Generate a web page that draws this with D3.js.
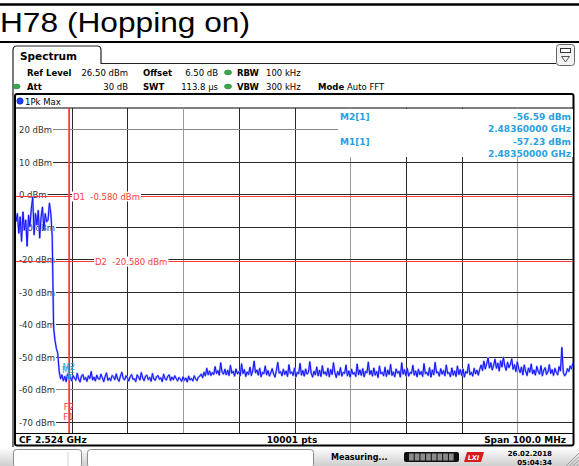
<!DOCTYPE html>
<html>
<head>
<meta charset="utf-8">
<script src="https://cdn.jsdelivr.net/npm/d3@7"></script>
<style>
  body { margin: 0; background: #fff; }
  svg { display: block; }
  text { white-space: pre; }
</style>
</head>
<body>
<svg id="chart"></svg>
<script>
// ---- data ----
const titleText = "H78 (Hopping on)";

const yTickValues = [20, 10, 0, -10, -20, -30, -40, -50, -60, -70];
const yTickLabels = ["20 dBm", "10 dBm", "0 dBm", "-10 dBm", "-20 dBm", "-30 dBm", "-40 dBm", "-50 dBm", "-60 dBm", "-70 dBm"];

const refLevel = 26.5;      // dBm at top of grid
const levelRange = 100;     // dB over 10 divisions
const centerGHz = 2.524;
const spanGHz = 0.1;

// sweep points, 0.25 MHz apart starting at 2.474 GHz (dBm)
const traceStartGHz = 2.474;
const traceStepGHz = 0.00025;
const traceValues = [
  -8.5, -6, -12, -7, -14.5, -5.5, -11, -8, -16, -6.5,
  -10, -4.5, -1, -12.5, -6, -9.5, -5, -13.5, -7, -4,
  -11, -6, -8.5, -8, -2.8, -6, -13, -41, -45, -47.5,
  -49, -54.5,
  -56.8, -55.6, -57.4, -56.1, -57.7, -55.3, -56.9, -56.2, -57.5, -55.8,
  -56.6, -57.3, -55.1, -56.9, -57.8, -56.0, -55.5, -57.1, -56.4, -57.6,
  -55.9, -56.7, -54.6, -57.2, -56.3, -57.5, -55.7, -56.8, -57.0, -55.4,
  -56.5, -57.7, -56.1, -55.0, -57.3, -56.6, -57.4, -55.8, -56.2, -57.1,
  -55.3, -56.9, -57.6, -56.0, -54.8, -56.7, -57.2, -55.9, -56.5, -57.5,
  -56.2, -55.5, -57.0, -56.8, -57.7, -55.6, -56.3, -57.2, -54.9, -56.6,
  -57.4, -56.0, -55.7, -57.1, -56.4, -57.6, -55.2, -56.9, -57.3, -56.1,
  -55.8, -57.0, -56.5, -57.7, -55.4, -56.8, -57.2, -56.0, -55.6, -57.4,
  -56.3, -57.1, -55.9, -56.7, -57.5, -56.4, -56.9, -57.6, -56.2, -57.3,
  -56.6, -57.8, -56.0, -57.2, -56.7, -57.5, -55.9, -56.8, -57.4, -56.3,
  -56.0, -55.4, -56.5, -54.8, -55.9, -53.6, -55.6, -54.4, -55.8, -54.9,
  -55.5, -53.1, -55.2, -54.3, -55.7, -51.9, -54.8, -55.4, -53.9, -55.6,
  -54.2, -55.8, -52.7, -55.1, -54.5, -56.0, -53.8, -55.3, -54.6, -55.9,
  -52.2, -55.2, -54.0, -56.1, -54.7, -55.5, -53.3, -55.8, -54.4, -51.4,
  -55.0, -54.1, -55.7, -53.6, -56.2, -54.8, -55.3, -52.9, -55.6, -54.3,
  -56.0, -54.9, -53.7, -55.4, -56.3, -54.2, -51.8, -55.1, -54.6, -55.9,
  -53.9, -55.5, -54.4, -56.1, -52.5, -55.2, -54.7, -55.8, -53.5, -56.2,
  -54.8, -55.3, -52.1, -55.7, -54.3, -56.0, -53.8, -55.4, -54.9, -51.6,
  -55.1, -56.3, -54.5, -55.6, -53.2, -55.9, -54.2, -56.1, -52.8, -55.3,
  -54.7, -55.8, -53.6, -56.2, -54.0, -55.5, -51.9, -55.0, -56.4, -54.6,
  -55.7, -53.4, -56.0, -54.8, -55.2, -52.6, -55.9, -54.4, -56.3, -53.9,
  -55.4, -54.9, -56.1, -52.3, -55.6, -54.1, -55.8, -53.7, -56.2, -54.5,
  -55.0, -51.7, -55.5, -54.3, -56.0, -53.5, -55.7, -54.6, -56.4, -52.9,
  -55.3, -54.8, -55.9, -53.3, -56.1, -54.2, -55.5, -52.4, -55.8, -54.7,
  -56.2, -53.8, -55.1, -54.5, -56.3, -51.9, -55.4, -54.0, -55.9, -53.6,
  -56.0, -54.9, -55.2, -52.7, -55.7, -54.4, -56.2, -53.9, -55.5, -54.6,
  -56.1, -52.2, -55.3, -54.8, -55.8, -53.4, -56.3, -54.1, -55.6, -51.8,
  -55.0, -54.7, -56.0, -53.7, -55.4, -54.3, -55.9, -52.6, -55.2, -54.9,
  -56.2, -53.5, -55.7, -54.4, -56.1, -52.9, -55.5, -54.0, -55.8, -53.8,
  -56.3, -54.6, -55.1, -52.3, -55.6, -54.8, -56.0, -53.6, -55.3, -54.2,
  -55.7, -53.9, -52.6, -54.3, -51.4, -53.8, -52.2, -50.4, -53.5, -51.9,
  -54.1, -52.7, -50.8, -53.6, -52.0, -54.4, -51.3, -53.2, -50.2, -52.9,
  -54.2, -51.7, -53.4, -52.4, -50.7, -53.9, -52.5, -54.6, -51.6, -53.7,
  -54.9, -53.2, -55.6, -52.6, -54.4, -55.8, -53.5, -54.8, -52.3, -55.3,
  -54.1, -55.7, -53.0, -54.6, -55.4, -52.8, -55.9, -54.2, -53.4, -55.5,
  -54.7, -52.5, -55.2, -54.0, -55.8, -53.6, -54.9, -55.6, -53.1, -54.4,
  -47.2, -54.8, -55.9, -55.3, -53.7, -54.6, -52.9, -53.8, -51.8
];

const markerNames = ["M1", "M2"];
const markerFreqs = [2.4835, 2.4836];     // GHz
const markerLevels = [-57.23, -56.59];    // dBm

const displayLineNames = ["D1", "D2"];
const displayLineLevels = [-0.58, -20.58];

const freqLineNames = ["F1", "F2"];
const freqLineValues = [2.4835, 2.4836];

const settingLabels = ["Ref Level", "Offset", "RBW", "Att", "SWT", "VBW", "Mode"];
const settingValues = ["26.50 dBm", "6.50 dB", "100 kHz", "30 dB", "113.8 µs", "300 kHz", "Auto FFT"];

const traceName = "1Pk Max";
const sweepPoints = "10001 pts";
const statusText = "Measuring...";
const dateText = ["26.02.2018", "05:04:34"];


class SpectrumScreen {

    constructor(_config) {
        this.config = {
            parentElement: _config.parentElement,
            containerWidth: _config.containerWidth || 579,
            containerHeight: _config.containerHeight || 466,
            plot: _config.plot || { left: 16, right: 573, top: 108, bottom: 433 }
        };
        this.initVis();
    }

    initVis() {
        let vis = this;
        const p = vis.config.plot;

        vis.svg = d3.select(vis.config.parentElement)
            .attr('width', vis.config.containerWidth)
            .attr('height', vis.config.containerHeight)
            .style('font-family', '"DejaVu Sans", sans-serif');

        vis.xScale = d3.scaleLinear()
            .domain([centerGHz - spanGHz / 2, centerGHz + spanGHz / 2])
            .range([p.left, p.right]);

        vis.yScale = d3.scaleLinear()
            .domain([refLevel - levelRange, refLevel])
            .range([p.bottom, p.top]);

        vis.trace = traceValues.map((v, i) => ({ f: traceStartGHz + i * traceStepGHz, v: v }));

        vis.renderFrame();
        vis.renderVis();
    }

    // document title, tab, settings header, footer and status bar
    renderFrame() {
        let vis = this;
        const svg = vis.svg;
        const W = vis.config.containerWidth;

        svg.append('rect').attr('width', W).attr('height', vis.config.containerHeight).attr('fill', '#fff');

        // title between two rules
        svg.append('line').attr('x1', 0).attr('x2', W).attr('y1', 4.5).attr('y2', 4.5)
            .attr('stroke', '#000').attr('stroke-width', 2.5);
        svg.append('line').attr('x1', 0).attr('x2', W).attr('y1', 42).attr('y2', 42)
            .attr('stroke', '#000').attr('stroke-width', 2);
        svg.append('text')
            .attr('x', 0).attr('y', 32)
            .attr('font-family', '"Liberation Sans", Arial, sans-serif')
            .attr('font-size', 27)
            .attr('textLength', 250)
            .attr('lengthAdjust', 'spacingAndGlyphs')
            .text(titleText);

        // "Spectrum" tab and outer frame line
        svg.append('path')
            .attr('d', 'M13,447 V50 Q13,46 17,46 H97 Q101,46 101,50 V63.5 H556')
            .attr('fill', 'none').attr('stroke', '#222').attr('stroke-width', 1.2);
        svg.append('text').attr('x', 20).attr('y', 59.5)
            .attr('font-size', 10.5).attr('font-weight', 'bold').text('Spectrum');

        // small menu icon at top right
        svg.append('rect').attr('x', 556.5).attr('y', 44.5).attr('width', 18).attr('height', 21).attr('rx', 3)
            .attr('fill', '#f2f2f2').attr('stroke', '#666');
        svg.append('rect').attr('x', 560.5).attr('y', 48.5).attr('width', 10).attr('height', 4)
            .attr('fill', '#fff').attr('stroke', '#333');
        svg.append('path').attr('d', 'M561.5,56.5 H569.5 L565.5,62 Z')
            .attr('fill', 'none').attr('stroke', '#555');

        // settings rows
        const rowY = [75.5, 89.5];
        const labelX = [27, 143, 237];
        const valueRight = [128, 218, 304];
        settingLabels.forEach((lab, i) => {
            const row = i < 3 ? 0 : 1;
            const col = i % 3;
            if (lab === 'Mode') {
                svg.append('text').attr('x', 318).attr('y', rowY[1]).attr('font-size', 8.5)
                    .attr('font-weight', 'bold').text(lab);
                svg.append('text').attr('x', 347).attr('y', rowY[1]).attr('font-size', 8.5)
                    .text(settingValues[i]);
                return;
            }
            svg.append('text').attr('x', labelX[col]).attr('y', rowY[row]).attr('font-size', 8.5)
                .attr('font-weight', 'bold').text(lab);
            svg.append('text').attr('x', col === 2 ? 266 : valueRight[col]).attr('y', rowY[row])
                .attr('font-size', 8.5)
                .attr('text-anchor', col === 2 ? 'start' : 'end')
                .text(settingValues[i]);
        });
        // green status dots (Offset/RBW row, Att, SWT/VBW)
        [[228, 72.5], [16.5, 86.5], [228, 86.5]].forEach(d => {
            svg.append('ellipse').attr('cx', d[0]).attr('cy', d[1]).attr('rx', 3.6).attr('ry', 2.4)
                .attr('fill', '#3aa84a').attr('stroke', '#2a7a36').attr('stroke-width', 0.5);
        });

        // plot box: trace row, grid, footer
        svg.append('rect').attr('x', 15).attr('y', 94).attr('width', 558.5).attr('height', 351.5).attr('rx', 2)
            .attr('fill', '#fff').attr('stroke', '#000').attr('stroke-width', 2);
        svg.append('line').attr('x1', 15).attr('x2', 573).attr('y1', 108).attr('y2', 108).attr('stroke', '#000');
        svg.append('line').attr('x1', 15).attr('x2', 573).attr('y1', 433.5).attr('y2', 433.5).attr('stroke', '#000');

        svg.append('circle').attr('cx', 20).attr('cy', 101).attr('r', 3.2)
            .attr('fill', '#1f3cff').attr('stroke', '#0a1a8a').attr('stroke-width', 0.6);
        svg.append('text').attr('x', 25).attr('y', 104.5).attr('font-size', 8.5).text(traceName);

        svg.append('text').attr('x', 19).attr('y', 443).attr('font-size', 9).attr('font-weight', 'bold')
            .text(`CF ${centerGHz.toFixed(3)} GHz`);
        svg.append('text').attr('x', 292).attr('y', 443).attr('font-size', 9).attr('font-weight', 'bold')
            .attr('text-anchor', 'middle').text(sweepPoints);
        svg.append('text').attr('x', 566).attr('y', 443).attr('font-size', 9).attr('font-weight', 'bold')
            .attr('text-anchor', 'end').text(`Span ${(spanGHz * 1000).toFixed(1)} MHz`);

        // status bar
        const defs = svg.append('defs');
        const grad = defs.append('linearGradient').attr('id', 'barGrad').attr('x1', 0).attr('x2', 0).attr('y1', 0).attr('y2', 1);
        grad.append('stop').attr('offset', '0%').attr('stop-color', '#ffffff');
        grad.append('stop').attr('offset', '100%').attr('stop-color', '#cfcfcf');
        svg.append('rect').attr('x', 0).attr('y', 447).attr('width', W).attr('height', 19).attr('fill', 'url(#barGrad)');

        svg.append('rect').attr('x', 13.5).attr('y', 449.5).attr('width', 68).attr('height', 18).attr('rx', 3)
            .attr('fill', '#fff').attr('stroke', '#8a8a8a');
        svg.append('line').attr('x1', 68).attr('x2', 68).attr('y1', 452).attr('y2', 466).attr('stroke', '#d0d0d0');
        svg.append('rect').attr('x', 87.5).attr('y', 449.5).attr('width', 226).attr('height', 18).attr('rx', 3)
            .attr('fill', '#fff').attr('stroke', '#8a8a8a');

        svg.append('text').attr('x', 331).attr('y', 460).attr('font-size', 8).attr('font-weight', 'bold')
            .text(statusText);

        // progress bar
        svg.append('rect').attr('x', 404).attr('y', 452).attr('width', 55).attr('height', 10).attr('rx', 2).attr('fill', '#111');
        d3.range(8).forEach(k => {
            svg.append('rect').attr('x', 409 + k * 5.7).attr('y', 453.5).attr('width', 4.7).attr('height', 7)
                .attr('fill', '#8c8c8c');
        });

        // LXI badge
        svg.append('path').attr('d', 'M467,452 H484 L481,462 H464 Z').attr('fill', '#d41c1c');
        svg.append('text').attr('x', 473.5).attr('y', 460).attr('font-size', 6.5).attr('font-weight', 'bold')
            .attr('font-style', 'italic').attr('text-anchor', 'middle').attr('fill', '#fff').text('LXI');

        svg.append('text').attr('x', 552).attr('y', 456).attr('font-size', 7).attr('font-weight', 'bold')
            .attr('text-anchor', 'end').text(dateText[0]);
        svg.append('text').attr('x', 552).attr('y', 464.5).attr('font-size', 7).attr('font-weight', 'bold')
            .attr('text-anchor', 'end').text(dateText[1]);

        // resize grip
        d3.range(4).forEach(k => {
            svg.append('line').attr('x1', 566 + k * 3.5).attr('y1', 466).attr('x2', 579).attr('y2', 453 + k * 3.5)
                .attr('stroke', '#9a9a9a');
        });
    }

    renderVis() {
        let vis = this;
        const p = vis.config.plot;
        const svg = vis.svg;

        const plotG = svg.append('g');

        // vertical divisions
        const xDomain = vis.xScale.domain();
        const divFreqs = d3.range(1, 10).map(k => xDomain[0] + k * (xDomain[1] - xDomain[0]) / 10);
        plotG.selectAll('.vgrid')
            .data(divFreqs)
            .join('line')
            .attr('class', 'vgrid')
            .attr('x1', d => Math.round(vis.xScale(d)) + 0.5)
            .attr('x2', d => Math.round(vis.xScale(d)) + 0.5)
            .attr('y1', p.top)
            .attr('y2', p.bottom)
            .attr('stroke', (d, i) => (i + 1) % 3 === 0 ? '#9a9a9a' : '#2a2a2a');

        // level labels with grid lines that start after the label
        yTickValues.forEach((v, i) => {
            const yy = Math.round(vis.yScale(v)) + 0.5;
            const label = plotG.append('text')
                .attr('x', 19)
                .attr('y', yy + 3)
                .attr('font-size', 8.5)
                .attr('fill', '#333')
                .text(yTickLabels[i]);
            const w = label.node().getComputedTextLength();
            plotG.append('line')
                .attr('x1', 19 + w + 1)
                .attr('x2', p.right)
                .attr('y1', yy)
                .attr('y2', yy)
                .attr('stroke', (v === 20 || v === -60) ? '#8a8a8a' : '#2a2a2a');
        });

        // marker readout area hides the grid behind it
        plotG.append('rect').attr('x', 338).attr('y', p.top + 1).attr('width', p.right - 338).attr('height', 48)
            .attr('fill', '#fff');

        const red = '#ff3a3a';

        // display lines D1, D2
        const dLabelX = [73, 95];
        displayLineLevels.forEach((lv, i) => {
            const yy = Math.round(vis.yScale(lv)) + 0.5;
            plotG.append('line').attr('x1', p.left).attr('x2', p.right).attr('y1', yy).attr('y2', yy)
                .attr('stroke', red);
            const t = plotG.append('text')
                .attr('x', dLabelX[i]).attr('y', yy + 3)
                .attr('font-size', 8.5).attr('fill', red)
                .text(`${displayLineNames[i]}  ${lv.toFixed(3)} dBm`);
            const w = t.node().getComputedTextLength();
            plotG.insert('rect', () => t.node())
                .attr('x', dLabelX[i] - 1).attr('y', yy - 5).attr('width', w + 2).attr('height', 10)
                .attr('fill', '#fff');
        });

        // frequency lines F1, F2
        freqLineValues.forEach(f => {
            const xx = vis.xScale(f);
            plotG.append('line').attr('x1', xx).attr('x2', xx).attr('y1', p.top).attr('y2', p.bottom)
                .attr('stroke', red).attr('stroke-width', 1.2);
        });
        [1, 0].forEach((i, k) => {
            plotG.append('text')
                .attr('x', vis.xScale(freqLineValues[i]) - 0.5)
                .attr('y', 410 + k * 10)
                .attr('font-size', 8.5).attr('fill', red).attr('text-anchor', 'middle')
                .text(freqLineNames[i]);
        });

        // trace
        plotG.append('clipPath').attr('id', 'plotClip')
            .append('rect').attr('x', p.left).attr('y', p.top).attr('width', p.right - p.left).attr('height', p.bottom - p.top);

        const line = d3.line()
            .x(d => vis.xScale(d.f))
            .y(d => vis.yScale(d.v));

        const traceG = plotG.append('g').attr('clip-path', 'url(#plotClip)');
        traceG.append('path')
            .datum(vis.trace)
            .attr('fill', 'none')
            .attr('stroke', '#9aa0ff')
            .attr('stroke-width', 2)
            .attr('stroke-linejoin', 'round')
            .attr('d', line);
        traceG.append('path')
            .datum(vis.trace)
            .attr('fill', 'none')
            .attr('stroke', '#1010ff')
            .attr('stroke-width', 1)
            .attr('stroke-linejoin', 'round')
            .attr('d', line);

        // markers
        const markerBlue = '#2a9fe0';
        markerFreqs.forEach((f, i) => {
            const mx = vis.xScale(f);
            const my = vis.yScale(markerLevels[i]);
            plotG.append('path')
                .attr('d', `M${mx - 2.5},${my - 4} H${mx + 2.5} L${mx},${my} Z`)
                .attr('fill', markerBlue);
        });
        [0, 1].forEach(i => {
            plotG.append('text')
                .attr('x', vis.xScale(markerFreqs[i]) - 7)
                .attr('y', 370 + (i === 0 ? 3 : 0))
                .attr('font-size', 8.5).attr('fill', markerBlue)
                .text(markerNames[i]);
        });

        // marker readout
        const readout = [1, 0];
        readout.forEach((i, k) => {
            const y0 = 119.5 + k * 25;
            plotG.append('text').attr('x', 340).attr('y', y0).attr('font-size', 9).attr('font-weight', 'bold')
                .attr('fill', markerBlue).text(`${markerNames[i]}[1]`);
            plotG.append('text').attr('x', 571).attr('y', y0).attr('font-size', 9).attr('font-weight', 'bold')
                .attr('fill', markerBlue).attr('text-anchor', 'end').text(`${markerLevels[i].toFixed(2)} dBm`);
            plotG.append('text').attr('x', 571).attr('y', y0 + 12.5).attr('font-size', 9).attr('font-weight', 'bold')
                .attr('fill', markerBlue).attr('text-anchor', 'end').text(`${markerFreqs[i].toFixed(8)} GHz`);
        });
    }
}

new SpectrumScreen({ parentElement: '#chart' });
</script>
</body>
</html>
